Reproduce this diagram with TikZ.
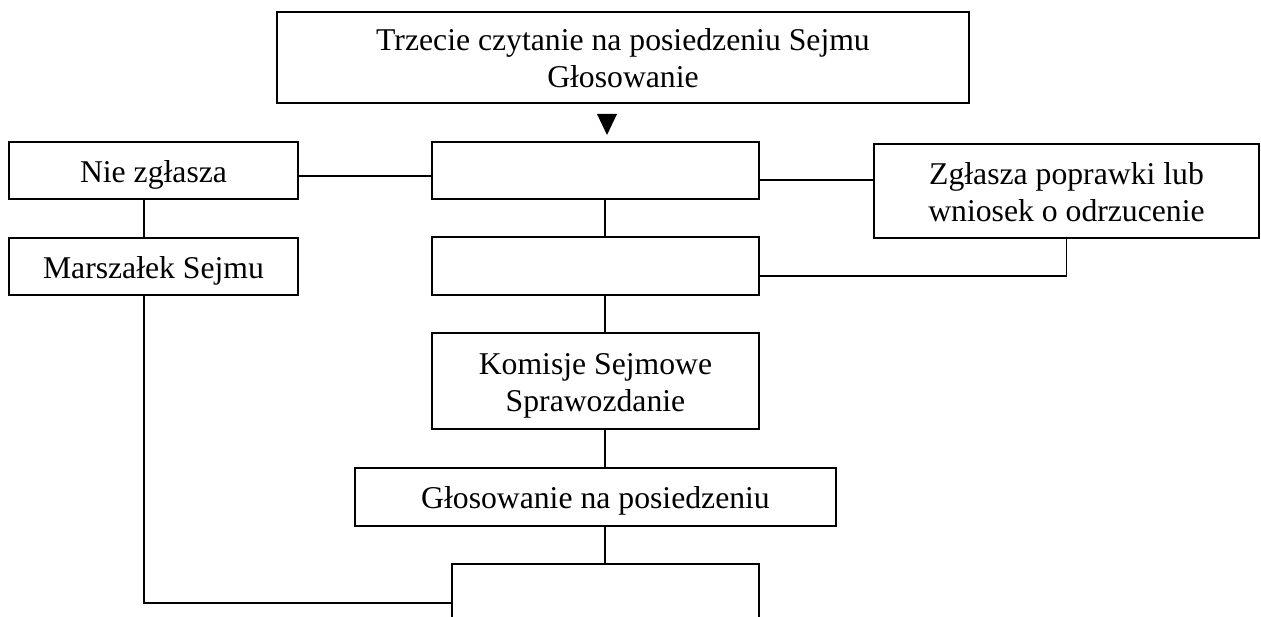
\documentclass[tikz,border=0pt]{standalone}
\usepackage{fontspec}
\setmainfont{Liberation Serif}
\newcommand{\boxtxt}[1]{\raisebox{-4.3pt}[\height][\depth]{\begin{tabular}{@{}c@{}}#1\end{tabular}}}
\begin{document}
\begin{tikzpicture}[x=1pt,y=-1pt,
  box/.style={draw, line width=1.3pt, inner sep=0pt,
    font=\fontsize{31.7}{37}\selectfont},
  link/.style={line width=1.3pt}]
\useasboundingbox (0,0) rectangle (1261,617);
\clip (0,0) rectangle (1261,617);
\node[box, minimum width=692pt, minimum height=91pt] (top) at (623,57.5) {\boxtxt{Trzecie czytanie na posiedzeniu Sejmu\\Głosowanie}};
\node[box, minimum width=289pt, minimum height=57pt] (nie) at (153.5,170.5) {\boxtxt{Nie zgłasza}};
\node[box, minimum width=327pt, minimum height=57pt] (c1) at (595.5,170.5) {};
\node[box, minimum width=385pt, minimum height=94pt] (rt) at (1066.5,191) {\boxtxt{Zgłasza poprawki lub\\wniosek o odrzucenie}};
\node[box, minimum width=289pt, minimum height=57pt] (mars) at (153.5,266.5) {\boxtxt{Marszałek Sejmu}};
\node[box, minimum width=327pt, minimum height=58pt] (c2) at (595.5,266) {};
\node[box, minimum width=327pt, minimum height=96pt] (kom) at (595.5,381) {\boxtxt{Komisje Sejmowe\\Sprawozdanie}};
\node[box, minimum width=481pt, minimum height=58pt] (glos) at (595.5,497) {\boxtxt{Głosowanie na posiedzeniu}};
\node[box, minimum width=307pt, minimum height=78pt] (bot) at (605.5,603) {};
\coordinate (col) at (605,0);
\fill (597,114) -- (617,114) -- (607,135) -- cycle;
\coordinate (nieE) at ([yshift=-5.5pt]nie.east);
\draw[link] (nieE) -- (nieE -| c1.west);
\coordinate (c1E) at ([yshift=-9.5pt]c1.east);
\draw[link] (c1E) -- (c1E -| rt.west);
\coordinate (nieS) at ([xshift=-9.5pt]nie.south);
\draw[link] (nieS) -- (nieS |- mars.north);
\coordinate (marS) at ([xshift=-9.5pt]mars.south);
\draw[link] (marS) |- (bot.west);
\coordinate (c2E) at ([yshift=-10pt]c2.east);
\draw[link] (rt.south) |- (c2E);
\draw[link] (c1.south -| col) -- (c2.north -| col);
\draw[link] (c2.south -| col) -- (kom.north -| col);
\draw[link] (kom.south -| col) -- (glos.north -| col);
\draw[link] (glos.south -| col) -- (bot.north -| col);
\end{tikzpicture}
\end{document}
